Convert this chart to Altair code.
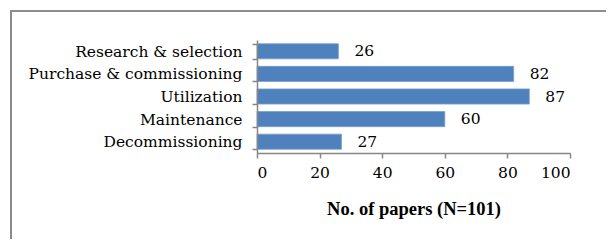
import altair as alt
import pandas as pd

categories = ["Research & selection", "Purchase & commissioning", "Utilization", "Maintenance", "Decommissioning"]
values = [26, 82, 87, 60, 27]
x_ticks = [0, 20, 40, 60, 80, 100]

df = pd.DataFrame({"stage": categories, "papers": values})

FONT = "DejaVu Serif"
TITLE_FONT = "Liberation Serif"
GRAY = "#868686"
FS = 15.5

y_enc = alt.Y("stage:N", sort=categories, title=None,
              scale=alt.Scale(paddingInner=0.33, paddingOuter=0.165),
              axis=alt.Axis(tickBand="extent", domainColor=GRAY, tickColor=GRAY, labelLimit=0,
                            tickSize=5, labelPadding=10, labelFontSize=FS, zindex=1,
                            labelFont=FONT, labelColor="#000000", domainWidth=1.5, tickWidth=1.5))
x_enc = alt.X("papers:Q", title="No. of papers (N=101)",
              scale=alt.Scale(domain=[0, 100], nice=False),
              axis=alt.Axis(values=x_ticks, grid=False, domainColor=GRAY, tickColor=GRAY, zindex=1,
                            tickSize=5, labelPadding=7, labelFontSize=FS, labelFont=FONT,
                            labelColor="#000000", titleFont=TITLE_FONT, titleFontSize=18.5, titleColor="#000000",
                            titleFontWeight="bold", titlePadding=19, domainWidth=1.5, tickWidth=1.5))

frame = alt.Chart(df).mark_rect(fill="transparent", stroke="#8a8a8a", strokeWidth=1.2).encode(
    x=alt.value(-246), x2=alt.value(363), y=alt.value(-29), y2=alt.value(230))

bars = alt.Chart(df).mark_bar(color="#4F81BD", stroke="#7aa0cf", strokeWidth=0.8).encode(y=y_enc, x=x_enc)
text = alt.Chart(df).mark_text(align="left", baseline="middle", dx=16, font=FONT, fontSize=FS,
                               color="#000000").encode(
    y=alt.Y("stage:N", sort=categories), x="papers:Q", text="papers:Q")

chart = alt.layer(frame, bars, text).properties(
    width=313, height=113,
    autosize=alt.AutoSizeParams(type="none"),
    padding={"left": 249, "top": 32, "right": 36, "bottom": 86},
).configure_view(stroke=None)

chart.save("out.html", embed_options={"renderer": "svg", "actions": False})
